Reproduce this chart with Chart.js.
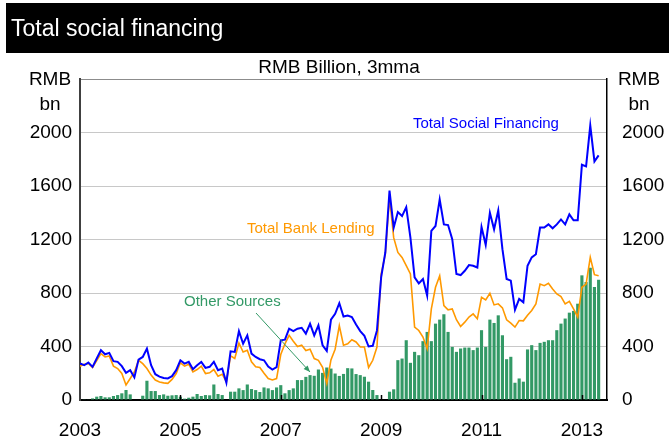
<!DOCTYPE html>
<html>
<head>
<meta charset="utf-8">
<script src="https://cdn.jsdelivr.net/npm/chart.js@4/dist/chart.umd.min.js"></script>
<style>
  html, body { margin: 0; padding: 0; background: #fff; }
  #wrap { width: 669px; height: 439px; }
</style>
</head>
<body>
<div id="wrap"><canvas id="tsfChart"></canvas></div>
<script>
// monthly, Jan 2003 .. May 2013, RMB bn (3mma)
const firstYear = 2003;
const yearLabels = ["2003", "2005", "2007", "2009", "2011", "2013"];
const yTicks = [0, 400, 800, 1200, 1600, 2000];

const totalSocialFinancing = [
  273, 260, 280, 248, 310, 372, 342, 352, 290, 285,
  253, 203, 223, 169, 302, 322, 384, 260, 193, 175,
  165, 161, 178, 223, 297, 272, 285, 230, 260, 285,
  240, 248, 285, 223, 235, 129, 364, 359, 515, 421,
  483, 347, 322, 305, 297, 250, 228, 245, 446, 451,
  533, 515, 533, 540, 496, 570, 483, 558, 409, 367,
  600, 644, 724, 624, 632, 620, 565, 515, 480, 400,
  405, 520, 917, 1103, 1566, 1289, 1405, 1375, 1442, 1214,
  917, 872, 905, 781, 1264, 1301, 1499, 1313, 1308, 1202,
  942, 934, 966, 1009, 1004, 991, 1294, 1160, 1400, 1276,
  1417, 1128, 905, 892, 674, 756, 731, 1004, 1066, 1090,
  1289, 1289, 1313, 1284, 1313, 1350, 1313, 1388, 1343, 1343,
  1759, 1747, 2052, 1784, 1829
];

const totalBankLending = [
  253, 268, 273, 243, 295, 347, 322, 330, 253, 235,
  198, 112, 161, 210, 297, 272, 235, 186, 149, 135,
  128, 124, 154, 198, 278, 253, 268, 210, 228, 253,
  198, 203, 228, 178, 193, 136, 330, 310, 426, 359,
  372, 285, 248, 243, 200, 160, 150, 160, 340, 420,
  483, 440, 400, 410, 370, 380, 310, 297, 245, 124,
  300, 380, 555, 409, 420, 451, 434, 396, 396, 243,
  297, 396, 942, 1090, 1512, 1214, 1103, 1066, 1004, 942,
  545, 520, 471, 384, 681, 843, 929, 706, 674, 681,
  600, 550, 582, 620, 644, 607, 768, 748, 798, 711,
  719, 689, 600, 575, 545, 594, 592, 634, 669, 719,
  867, 855, 872, 830, 793, 773, 719, 738, 681, 620,
  843, 867, 1066, 937, 929
];

const otherSources = [
  0, 5, 3, 12, 25, 30, 20, 20, 30, 37,
  50, 75, 42, 0, 0, 32, 144, 67, 67, 37,
  42, 32, 35, 37, 25, 10, 17, 25, 45, 30,
  37, 35, 116, 45, 37, 0, 62, 62, 87, 74,
  116, 82, 74, 60, 94, 87, 74, 94, 111, 50,
  74, 87, 149, 149, 173, 186, 181, 228, 203, 243,
  235, 198, 180, 195, 238, 236, 194, 186, 174, 137,
  75, 37, 0, 0, 62, 80, 298, 310, 447, 278,
  360, 335, 440, 509, 440, 571, 601, 641, 509, 397,
  360, 385, 392, 392, 373, 392, 522, 397, 601, 576,
  633, 484, 305, 323, 129, 161, 137, 378, 410, 373,
  427, 435, 447, 447, 522, 571, 609, 653, 666, 720,
  932, 882, 989, 845, 899
];

const FONT = '"Liberation Sans", Arial, sans-serif';
Chart.defaults.font.family = FONT;
Chart.defaults.color = "#000";

const toPoints = arr => arr.map((v, i) => ({ x: i, y: v }));

// title bar, unit labels, series labels and the arrow
const decor = {
  id: "decor",
  beforeDraw(chart) {
    const ctx = chart.ctx;
    ctx.save();
    ctx.fillStyle = "#000";
    ctx.fillRect(6, 3, 663, 50);
    ctx.fillStyle = "#fff";
    ctx.font = "23px " + FONT;
    ctx.textBaseline = "alphabetic";
    ctx.fillText("Total social financing", 11, 36);

    ctx.fillStyle = "#000";
    ctx.font = "19px " + FONT;
    ctx.textAlign = "center";
    ctx.textBaseline = "middle";
    ctx.fillText("RMB Billion, 3mma", 339, 68);
    ctx.fillText("RMB", 50, 80);
    ctx.fillText("bn", 50, 105);
    ctx.fillText("RMB", 639, 80);
    ctx.fillText("bn", 639, 105);
    ctx.restore();
  },
  afterDatasetsDraw(chart) {
    const ctx = chart.ctx;
    const xs = chart.scales.x;
    const area = chart.chartArea;
    ctx.save();
    // small year ticks sitting on the axis
    ctx.strokeStyle = "#000";
    ctx.lineWidth = 1.5;
    for (let m = 24; m <= 120; m += 24) {
      const px = Math.round(xs.getPixelForValue(m)) + 0.5;
      ctx.beginPath();
      ctx.moveTo(px, area.bottom - 5);
      ctx.lineTo(px, area.bottom + 1);
      ctx.stroke();
    }

    ctx.font = "15px " + FONT;
    ctx.textBaseline = "middle";
    ctx.fillStyle = "#0000ff";
    ctx.fillText("Total Social Financing", 413, 124);
    ctx.fillStyle = "#ff9900";
    ctx.fillText("Total Bank Lending", 247, 229);
    ctx.fillStyle = "#339966";
    ctx.fillText("Other Sources", 184, 302);

    // arrow to the bars
    const x0 = 256, y0 = 313, x1 = 310, y1 = 372;
    ctx.strokeStyle = "#339966";
    ctx.lineWidth = 1;
    ctx.beginPath();
    ctx.moveTo(x0, y0);
    ctx.lineTo(x1, y1);
    ctx.stroke();
    const a = Math.atan2(y1 - y0, x1 - x0);
    ctx.beginPath();
    ctx.moveTo(x1, y1);
    ctx.lineTo(x1 - 7 * Math.cos(a - 0.4), y1 - 7 * Math.sin(a - 0.4));
    ctx.lineTo(x1 - 7 * Math.cos(a + 0.4), y1 - 7 * Math.sin(a + 0.4));
    ctx.closePath();
    ctx.fillStyle = "#339966";
    ctx.fill();
    ctx.restore();
  }
};

const ctx = document.getElementById("tsfChart").getContext("2d");
new Chart(ctx, {
  type: "bar",
  data: {
    datasets: [
      {
        type: "line",
        label: "Total Social Financing",
        data: toPoints(totalSocialFinancing),
        borderColor: "#0000ff",
        borderWidth: 2,
        pointRadius: 0,
        tension: 0,
        order: 1
      },
      {
        type: "line",
        label: "Total Bank Lending",
        data: toPoints(totalBankLending),
        borderColor: "#ff9900",
        borderWidth: 1.6,
        pointRadius: 0,
        tension: 0,
        order: 2
      },
      {
        type: "bar",
        label: "Other Sources",
        data: toPoints(otherSources),
        backgroundColor: "#339966",
        barPercentage: 0.75,
        categoryPercentage: 1,
        order: 3
      }
    ]
  },
  options: {
    responsive: true,
    maintainAspectRatio: false,
    animation: false,
    layout: { padding: { top: 79, left: 0, right: 0, bottom: 0 } },
    plugins: {
      legend: { display: false },
      tooltip: { enabled: false }
    },
    scales: {
      x: {
        type: "linear",
        offset: false,
        min: 0,
        max: 126,
        afterBuildTicks: scale => {
          scale.ticks = yearLabels.map((_, i) => ({ value: i * 24 }));
        },
        afterFit: scale => { scale.height = 39; },
        ticks: {
          font: { size: 19 },
          padding: 19,
          maxRotation: 0,
          autoSkip: false,
          callback: value => yearLabels[value / 24] ?? ""
        },
        grid: { display: false, drawTicks: false },
        border: { display: true, color: "#000", width: 2 }
      },
      y: {
        position: "left",
        min: 0,
        max: 2400,
        afterBuildTicks: scale => {
          scale.ticks = [...yTicks, 2400].map(v => ({ value: v }));
        },
        afterFit: scale => { scale.width = 80; },
        ticks: {
          font: { size: 19 },
          padding: 8,
          callback: value => (yTicks.includes(value) ? String(value) : "")
        },
        grid: {
          drawTicks: false,
          color: c => (c.tick.value === 2400 ? "#8c8c8c" : c.tick.value === 0 ? "rgba(0,0,0,0)" : "#c8c8c8"),
          lineWidth: 1
        },
        border: { display: true, color: "#404040", width: 2 }
      },
      y1: {
        position: "right",
        min: 0,
        max: 2400,
        afterBuildTicks: scale => {
          scale.ticks = [...yTicks, 2400].map(v => ({ value: v }));
        },
        afterFit: scale => { scale.width = 62; },
        ticks: {
          font: { size: 19 },
          padding: 15,
          callback: value => (yTicks.includes(value) ? String(value) : "")
        },
        grid: { display: false, drawTicks: false },
        border: { display: true, color: "#000", width: 1.5 }
      }
    }
  },
  plugins: [decor]
});
</script>
</body>
</html>
